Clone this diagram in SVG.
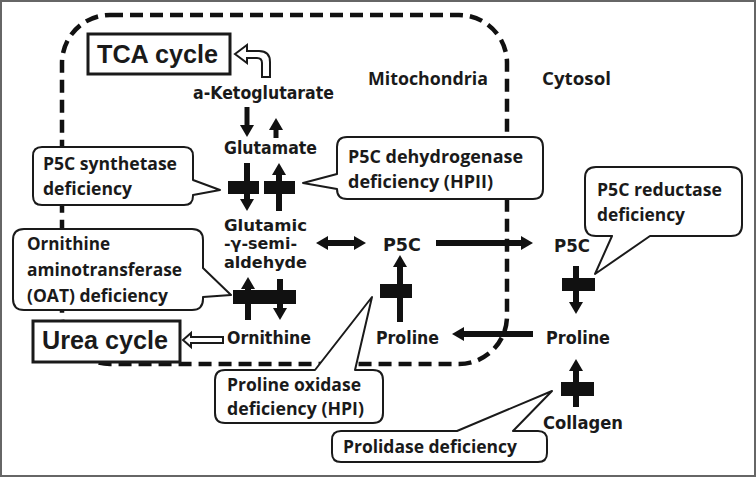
<svg xmlns="http://www.w3.org/2000/svg" width="756" height="477" viewBox="0 0 756 477">
<style>
.lbl{font-family:"DejaVu Sans","Liberation Sans",sans-serif;font-weight:bold;font-size:17.5px;fill:#1a1a1a}
.sm{font-size:16px}
.big{font-family:"Liberation Sans",Arial,sans-serif;font-weight:bold;font-size:25px;fill:#1a1a1a}
.call{font-family:"Open Sans","Noto Sans",sans-serif;font-weight:700;font-size:17.5px;fill:#1a1a1a}
.box{fill:#fff;stroke:#1a1a1a;stroke-width:3}
.bubble{fill:#fff;stroke:#1a1a1a;stroke-width:2;stroke-linejoin:round}
.hollow{fill:#fff;stroke:#1a1a1a;stroke-width:2;stroke-linejoin:miter}
.shaft{stroke:#111;stroke-width:6;fill:none}
.thin{stroke-width:5}
.bar{fill:#111}
.comp{fill:none;stroke:#111;stroke-width:4.5;stroke-dasharray:13 7}
</style>
<defs>
<marker id="ah" viewBox="0 0 12 14" refX="1" refY="7" markerWidth="12" markerHeight="14" markerUnits="userSpaceOnUse" orient="auto-start-reverse">
<path d="M0,0 L12,7 L0,14 Z" fill="#111"/>
</marker>
</defs>
<rect x="1" y="1" width="754" height="475" fill="#fff" stroke="#666" stroke-width="2"/>
<g id="mitochondria-compartment">
<rect class="comp" x="62" y="15" width="445" height="349" rx="48" ry="48"/>
<text class="call" x="368" y="85" textLength="120" lengthAdjust="spacingAndGlyphs">Mitochondria</text>
<text class="call" x="542" y="85" textLength="69" lengthAdjust="spacingAndGlyphs">Cytosol</text>
</g>
<g id="connectors">
<path class="shaft thin" d="M247,107 V126" marker-end="url(#ah)"/>
<path class="shaft thin" d="M276,138 V129" marker-end="url(#ah)"/>
<path class="shaft" d="M247,163 V200" marker-end="url(#ah)"/>
<rect class="bar" x="228" y="181" width="31" height="13"/>
<path class="shaft" d="M279,211 V174" marker-end="url(#ah)"/>
<rect class="bar" x="264" y="181" width="31" height="13"/>
<path class="shaft" d="M327,243 H355" marker-start="url(#ah)" marker-end="url(#ah)"/>
<path class="shaft" d="M436,243 H522" marker-end="url(#ah)"/>
<path class="shaft" d="M248,320 V288" marker-end="url(#ah)"/>
<path class="shaft" d="M280,279 V309" marker-end="url(#ah)"/>
<rect class="bar" x="233" y="290" width="63" height="14"/>
<path class="shaft" d="M400,322 V266" marker-end="url(#ah)"/>
<rect class="bar" x="380" y="284" width="32" height="14"/>
<path class="shaft" d="M576,266 V303" marker-end="url(#ah)"/>
<rect class="bar" x="562" y="278" width="33" height="13"/>
<path class="shaft" d="M533,334 H463" marker-end="url(#ah)"/>
<path class="shaft" d="M576,407 V370" marker-end="url(#ah)"/>
<rect class="bar" x="561" y="382" width="33" height="14"/>
<path class="hollow" d="M235,54 L247,45 L247,51 L259,51 Q270,51 270,62 L270,77 L262,77 L262,63 Q262,58 257,58 L247,58 L247,63 Z"/>
<path class="hollow" d="M183,340 L191,333 L191,337 L223,337 L223,343 L191,343 L191,347 Z"/>
</g>
<g id="n-tca">
<rect class="box" x="88" y="34" width="142" height="40"/>
<text class="big" x="97" y="63" textLength="121" lengthAdjust="spacingAndGlyphs">TCA cycle</text>
</g>
<g id="n-urea">
<rect class="box" x="33" y="321" width="147" height="41"/>
<text class="big" x="42" y="349" textLength="126" lengthAdjust="spacingAndGlyphs">Urea cycle</text>
</g>
<g id="n-akg"><text class="lbl" x="193" y="99" textLength="141" lengthAdjust="spacingAndGlyphs">a-Ketoglutarate</text></g>
<g id="n-glu"><text class="lbl" x="224" y="154" textLength="93" lengthAdjust="spacingAndGlyphs">Glutamate</text></g>
<g id="n-gsa">
<text class="lbl sm" x="224" y="231" textLength="83" lengthAdjust="spacingAndGlyphs">Glutamic</text>
<text class="lbl sm" x="224" y="249" textLength="73" lengthAdjust="spacingAndGlyphs">-γ-semi-</text>
<text class="lbl sm" x="224" y="268" textLength="83" lengthAdjust="spacingAndGlyphs">aldehyde</text>
</g>
<g id="n-p5c-m"><text class="lbl" x="383" y="251" textLength="38" lengthAdjust="spacingAndGlyphs">P5C</text></g>
<g id="n-p5c-c"><text class="lbl" x="554" y="252" textLength="36" lengthAdjust="spacingAndGlyphs">P5C</text></g>
<g id="n-orn"><text class="lbl" x="227" y="344" textLength="84" lengthAdjust="spacingAndGlyphs">Ornithine</text></g>
<g id="n-pro-m"><text class="lbl" x="376" y="344" textLength="63" lengthAdjust="spacingAndGlyphs">Proline</text></g>
<g id="n-pro-c"><text class="lbl" x="546" y="344" textLength="64" lengthAdjust="spacingAndGlyphs">Proline</text></g>
<g id="n-col"><text class="lbl" x="543" y="429" textLength="80" lengthAdjust="spacingAndGlyphs">Collagen</text></g>
<g id="c-p5cs">
<path class="bubble" d="M42,147 H184 Q193,147 193,156 V180 L220,190 L193,195 V196 Q193,205 184,205 H42 Q33,205 33,196 V156 Q33,147 42,147 Z"/>
<text class="call" x="43" y="170" textLength="134" lengthAdjust="spacingAndGlyphs">P5C synthetase</text>
<text class="call" x="43" y="195" textLength="89" lengthAdjust="spacingAndGlyphs">deficiency</text>
</g>
<g id="c-p5cdh">
<path class="bubble" d="M347,137 H533 Q543,137 543,147 V189 Q543,199 533,199 H347 Q337,199 337,189 L303,183 L337,174 V147 Q337,137 347,137 Z"/>
<text class="call" x="348" y="163" textLength="175" lengthAdjust="spacingAndGlyphs">P5C dehydrogenase</text>
<text class="call" x="348" y="188" textLength="145" lengthAdjust="spacingAndGlyphs">deficiency (HPII)</text>
</g>
<g id="c-p5cr">
<path class="bubble" d="M596,167 H731 Q742,167 742,178 V225 Q742,236 731,236 H650 L595,274 L612,236 H596 Q585,236 585,225 V178 Q585,167 596,167 Z"/>
<text class="call" x="597" y="196" textLength="125" lengthAdjust="spacingAndGlyphs">P5C reductase</text>
<text class="call" x="597" y="221" textLength="88" lengthAdjust="spacingAndGlyphs">deficiency</text>
</g>
<g id="c-oat">
<path class="bubble" d="M24,229 H192 Q203,229 203,240 V268 L231,295 L203,297 V299 Q203,310 192,310 H24 Q13,310 13,299 V240 Q13,229 24,229 Z"/>
<text class="call" x="27" y="250" textLength="83" lengthAdjust="spacingAndGlyphs">Ornithine</text>
<text class="call" x="27" y="276" textLength="155" lengthAdjust="spacingAndGlyphs">aminotransferase</text>
<text class="call" x="27" y="302" textLength="141" lengthAdjust="spacingAndGlyphs">(OAT) deficiency</text>
</g>
<g id="c-prodh">
<path class="bubble" d="M225,370 H315 L372,297 L355,370 H373 Q383,370 383,380 V413 Q383,423 373,423 H225 Q215,423 215,413 V380 Q215,370 225,370 Z"/>
<text class="call" x="227" y="391" textLength="134" lengthAdjust="spacingAndGlyphs">Proline oxidase</text>
<text class="call" x="227" y="415" textLength="137" lengthAdjust="spacingAndGlyphs">deficiency (HPI)</text>
</g>
<g id="c-prolidase">
<path class="bubble" d="M341,431 H457 L552,391 L513,431 H538 Q547,431 547,440 V453 Q547,462 538,462 H341 Q332,462 332,453 V440 Q332,431 341,431 Z"/>
<text class="call" x="343" y="453" textLength="174" lengthAdjust="spacingAndGlyphs">Prolidase deficiency</text>
</g>
</svg>
